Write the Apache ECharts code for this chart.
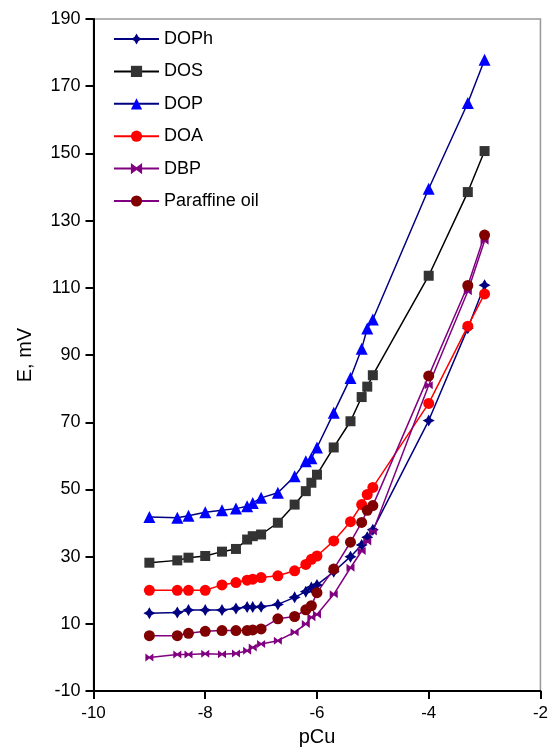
<!DOCTYPE html>
<html>
<head>
<meta charset="utf-8">
<script src="https://cdn.jsdelivr.net/npm/echarts@6/dist/echarts.min.js"></script>
<style>
html,body{margin:0;padding:0;background:#fff;}
#chart{width:551px;height:752px;}
</style>
</head>
<body>
<div id="chart"></div>
<script>
const pCu = [-9, -8.5, -8.3, -8, -7.7, -7.45, -7.25, -7.15, -7.0, -6.7, -6.4, -6.2, -6.1, -6.0, -5.7, -5.4, -5.2, -5.1, -5.0, -4, -3.3, -3.0];
const DOPh = [13.2, 13.4, 14.1, 14.1, 14.1, 14.6, 15, 15, 15.1, 15.8, 17.9, 19.6, 20.8, 21.6, 25.5, 30, 33.5, 35.8, 38, 70.5, 98, 110.8];
const DOS = [28.2, 28.9, 29.7, 30.2, 31.5, 32.3, 35.1, 36.1, 36.6, 40.1, 45.5, 49.5, 52, 54.4, 62.5, 70.3, 77.5, 80.6, 84, 113.6, 138.5, 150.7];
const DOP = [41.8, 41.6, 42.2, 43.2, 43.8, 44.3, 45, 46, 47.5, 49, 53.9, 58.4, 59.3, 62.5, 72.8, 83.2, 91.9, 97.9, 100.6, 139.5, 165, 177.9];
const DOA = [20, 20, 20, 20, 21.6, 22.3, 23, 23.3, 23.8, 24.3, 25.8, 27.7, 29.2, 30.2, 34.7, 40.4, 45.5, 48.5, 50.6, 75.6, 98.6, 108.2];
const DBP = [0, 0.9, 0.9, 1.1, 1, 1.2, 2, 3, 4, 5, 7.5, 10, 12, 12.8, 18.8, 26.7, 31.7, 34.5, 37.5, 81, 109, 124];
const Paraffin = [6.5, 6.5, 7.2, 7.8, 8, 8, 8, 8.2, 8.5, 11.5, 12.2, 14.2, 15.4, 19.3, 26.3, 34.3, 40.2, 43.8, 45.2, 83.8, 110.7, 125.7];

const seriesNames = ['DOPh', 'DOS', 'DOP', 'DOA', 'DBP', 'Paraffine oil'];
const seriesValues = [DOPh, DOS, DOP, DOA, DBP, Paraffin];

const styles = [
  {line: '#000080', mark: '#000080', symbol: 'path://M0,-6 L2.2,-2.2 L6,0 L2.2,2.2 L0,6 L-2.2,2.2 L-6,0 L-2.2,-2.2 Z', size: 12},
  {line: '#000000', mark: '#333333', symbol: 'rect', size: 10},
  {line: '#000080', mark: '#0000ff', symbol: 'triangle', size: 12},
  {line: '#ff0000', mark: '#ff0000', symbol: 'circle', size: 11},
  {line: '#800080', mark: '#800080', symbol: 'path://M-3,-4 L0,-1 L3,-4 L3,4 L0,1 L-3,4 Z', size: 8},
  {line: '#800080', mark: '#800000', symbol: 'circle', size: 11}
];

const FONT = 'Liberation Sans, Arial, sans-serif';

const series = seriesNames.map((name, i) => ({
  name: name,
  type: 'line',
  data: pCu.map((x, j) => [x, seriesValues[i][j]]),
  symbol: styles[i].symbol,
  symbolSize: styles[i].size,
  lineStyle: {color: styles[i].line, width: 1.5},
  itemStyle: {color: styles[i].mark},
  animation: false
}));

const chart = echarts.init(document.getElementById('chart'), null, {renderer: 'canvas'});
chart.setOption({
  backgroundColor: '#fff',
  animation: false,
  grid: {left: 93.5, right: 7.5, top: 19, bottom: 57, show: true, borderColor: '#999', borderWidth: 1.5},
  legend: {
    orient: 'vertical',
    left: 108,
    top: 25,
    itemWidth: 45,
    itemHeight: 14,
    itemGap: 14.4,
    textStyle: {fontFamily: FONT, fontSize: 18, color: '#000'},
    data: seriesNames
  },
  xAxis: {
    type: 'value',
    min: -10, max: -2, interval: 2,
    name: 'pCu',
    nameLocation: 'middle',
    nameGap: 34,
    nameTextStyle: {fontFamily: FONT, fontSize: 20, color: '#000'},
    axisLine: {show: true, onZero: false, lineStyle: {color: '#000', width: 2}},
    axisTick: {show: true, length: 8, lineStyle: {color: '#000', width: 2}},
    axisLabel: {fontFamily: FONT, fontSize: 17, color: '#000', margin: 14},
    splitLine: {show: false}
  },
  yAxis: {
    type: 'value',
    min: -10, max: 190, interval: 20,
    name: 'E, mV',
    nameLocation: 'middle',
    nameGap: 58,
    nameRotate: 90,
    nameTextStyle: {fontFamily: FONT, fontSize: 20, color: '#000'},
    axisLine: {show: true, onZero: false, lineStyle: {color: '#000', width: 2}},
    axisTick: {show: true, length: 8, lineStyle: {color: '#000', width: 2}},
    axisLabel: {fontFamily: FONT, fontSize: 18, color: '#000', margin: 13},
    splitLine: {show: false}
  },
  series: series
});
</script>
</body>
</html>
